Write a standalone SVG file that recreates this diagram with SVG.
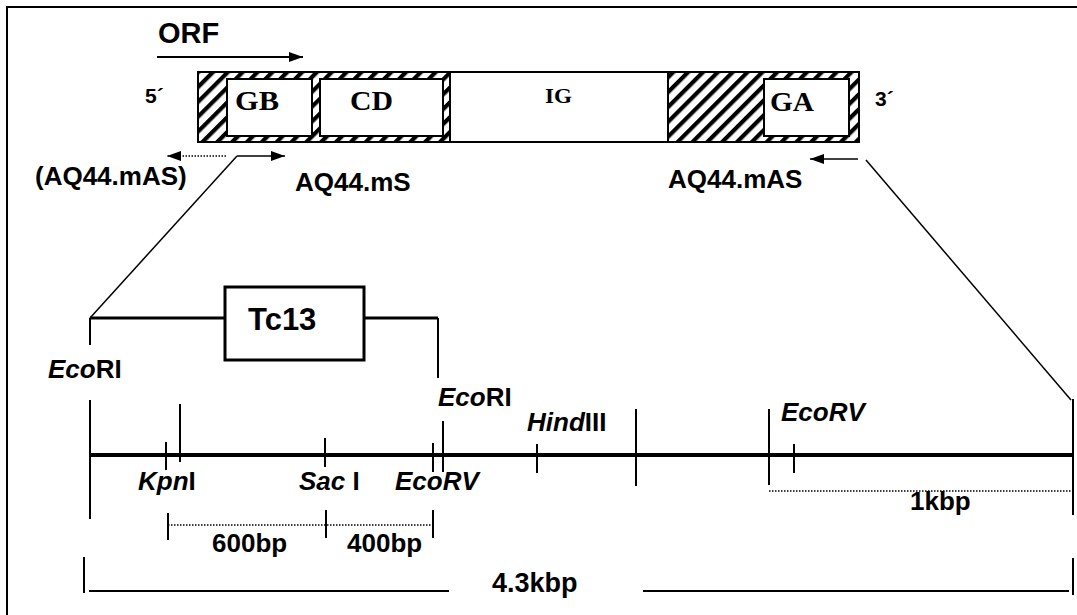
<svg xmlns="http://www.w3.org/2000/svg" width="1077" height="615" viewBox="0 0 1077 615">
<style>
.lbl{font-family:"Liberation Sans",Arial,sans-serif;font-weight:bold;font-size:26px;fill:#000}
.gn{font-family:"Liberation Serif","Times New Roman",serif;font-weight:bold;font-size:27px;fill:#000}
.ln{stroke:#000;fill:none;stroke-width:1.5}
.tk{stroke:#000;fill:none;stroke-width:2}
.thk{stroke:#000;fill:none;stroke-width:3}
.dot{stroke:#000;fill:none;stroke-width:1.5;stroke-dasharray:1.5 1.5}
.box{fill:#fff;stroke:#000;stroke-width:2}
</style>
<defs>
<pattern id="hatch" patternUnits="userSpaceOnUse" width="10.5" height="10" patternTransform="rotate(45)">
<rect x="0" y="0" width="4.2" height="10" fill="#000"/>
</pattern>
<marker id="ah" markerUnits="userSpaceOnUse" markerWidth="14" markerHeight="10" refX="14" refY="5" orient="auto">
<path d="M0,0 L14,5 L0,10 z" fill="#000"/>
</marker>
</defs>
<rect width="1077" height="615" fill="#fff"/>
<path d="M7,615 V7 H1077" stroke="#000" stroke-width="2" fill="none"/>

<g id="orf">
<text class="lbl" x="158" y="43" style="font-size:29px">ORF</text>
</g>

<g id="gene">
<rect x="198" y="72" width="252" height="70" fill="url(#hatch)"/>
<rect x="668" y="72" width="191" height="70" fill="url(#hatch)"/>
<rect x="450" y="72" width="218" height="70" fill="#fff"/>
<rect x="198" y="72" width="661" height="70" fill="none" stroke="#000" stroke-width="2"/>
<line x1="450" y1="72" x2="450" y2="142" class="tk"/>
<line x1="668" y1="72" x2="668" y2="142" class="tk"/>
<text class="lbl" x="145" y="103" style="font-size:21px">5´</text>
<text class="lbl" x="875" y="106" style="font-size:21px">3´</text>
</g>
<g id="GB">
<rect class="box" x="227" y="79" width="85" height="57"/>
<text class="gn" x="235" y="110" textLength="44" lengthAdjust="spacingAndGlyphs">GB</text>
</g>
<g id="CD">
<rect class="box" x="320" y="79" width="123" height="57"/>
<text class="gn" x="350" y="110" textLength="43" lengthAdjust="spacingAndGlyphs">CD</text>
</g>
<g id="IG">
<text class="gn" x="545" y="103" style="font-size:22px" textLength="27" lengthAdjust="spacingAndGlyphs">IG</text>
</g>
<g id="GA">
<rect class="box" x="764" y="79" width="85" height="57"/>
<text class="gn" x="770" y="111" textLength="44" lengthAdjust="spacingAndGlyphs">GA</text>
</g>

<g id="primers">
<text class="lbl" x="35" y="185">(AQ44.mAS)</text>
<text class="lbl" x="295" y="191">AQ44.mS</text>
<text class="lbl" x="668" y="188">AQ44.mAS</text>
</g>

<g id="Tc13">
<rect x="225" y="287" width="139" height="73" fill="#fff" stroke="#000" stroke-width="3"/>
<text class="lbl" x="248" y="330" style="font-size:31px">Tc13</text>
</g>

<g id="sites">
<text class="lbl" x="48" y="378"><tspan font-style="italic">Eco</tspan>RI</text>
<text class="lbl" x="438" y="406"><tspan font-style="italic">Eco</tspan>RI</text>
<text class="lbl" x="527" y="431"><tspan font-style="italic">Hind</tspan>III</text>
<text class="lbl" x="781" y="421" font-style="italic">EcoRV</text>
<text class="lbl" x="138" y="490"><tspan font-style="italic">Kpn</tspan>I</text>
<text class="lbl" x="299" y="490"><tspan font-style="italic">Sac</tspan> I</text>
<text class="lbl" x="395" y="490" font-style="italic">EcoRV</text>
</g>

<g id="scale">
<text class="lbl" x="212" y="552">600bp</text>
<text class="lbl" x="347" y="552">400bp</text>
<text class="lbl" x="910" y="510">1kbp</text>
<text class="lbl" x="492" y="592" style="font-size:27px">4.3kbp</text>
</g>

<g id="connectors">
<line x1="157" y1="57" x2="303" y2="57" stroke="#000" stroke-width="2" marker-end="url(#ah)"/>
<line x1="226" y1="156" x2="167" y2="156" class="dot" marker-end="url(#ah)"/>
<line x1="237" y1="156" x2="285" y2="156" class="ln" marker-end="url(#ah)"/>
<line x1="858" y1="159" x2="810" y2="159" class="ln" marker-end="url(#ah)"/>
<line x1="237" y1="156" x2="90" y2="318" class="ln"/>
<line x1="866" y1="160" x2="1071" y2="400" class="ln"/>

<line x1="90" y1="318" x2="225" y2="318" class="thk"/>
<line x1="364" y1="318" x2="438" y2="318" class="thk"/>
<line x1="90" y1="318" x2="90" y2="345" class="tk"/>
<line x1="90" y1="400" x2="90" y2="519" class="tk"/>
<line x1="438" y1="318" x2="438" y2="378" class="tk"/>

<line x1="90" y1="455" x2="1073" y2="455" stroke="#000" stroke-width="4"/>
<line x1="166" y1="442" x2="166" y2="470" class="tk"/>
<line x1="180" y1="404" x2="180" y2="462" class="tk"/>
<line x1="325" y1="438" x2="325" y2="467" class="tk"/>
<line x1="433" y1="443" x2="433" y2="472" class="tk"/>
<line x1="443" y1="421" x2="443" y2="472" class="tk"/>
<line x1="537" y1="444" x2="537" y2="473" class="tk"/>
<line x1="636" y1="409" x2="636" y2="486" class="tk"/>
<line x1="769" y1="409" x2="769" y2="485" class="tk"/>
<line x1="794" y1="444" x2="794" y2="473" class="tk"/>
<line x1="1073" y1="399" x2="1073" y2="515" class="tk"/>

<line x1="769" y1="491" x2="1071" y2="491" class="dot"/>
<line x1="168" y1="525" x2="433" y2="525" class="dot"/>
<line x1="168" y1="513" x2="168" y2="540" class="tk"/>
<line x1="326" y1="510" x2="326" y2="538" class="tk"/>
<line x1="433" y1="510" x2="433" y2="538" class="tk"/>

<line x1="84" y1="557" x2="84" y2="593" class="tk"/>
<line x1="89" y1="591" x2="449" y2="591" class="tk"/>
<line x1="643" y1="591" x2="1069" y2="591" class="tk"/>
<line x1="1073" y1="558" x2="1073" y2="595" class="tk"/>
</g>
</svg>
